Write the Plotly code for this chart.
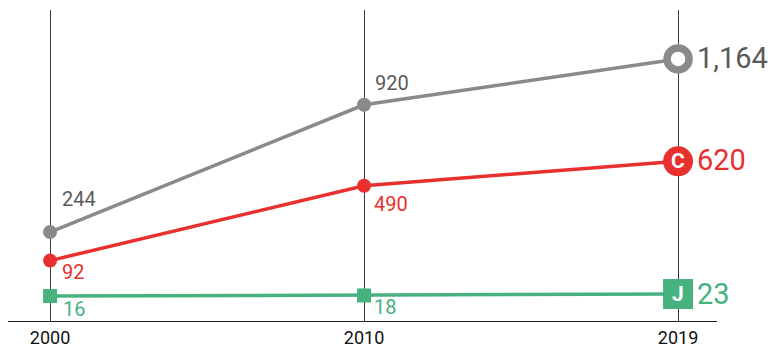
import plotly.graph_objects as go

years = ["2000", "2010", "2019"]
gray_vals = [244, 920, 1164]
red_vals = [92, 490, 620]
green_vals = [16, 18, 23]

GRAY = "#8a8a8a"
GRAY_TXT = "#5a5a5a"
RED = "#e8302e"
GREEN = "#47b17f"
FONT = "Roboto, Lato, sans-serif"

xs = list(range(len(years)))

fig = go.Figure()
fig.add_trace(go.Scatter(
    x=xs, y=gray_vals, mode="lines+markers",
    line=dict(color=GRAY, width=3.5),
    marker=dict(symbol="circle", size=[14, 14, 22], opacity=1,
                color=[GRAY, GRAY, "white"],
                line=dict(color=GRAY, width=[0, 0, 7.5])),
    cliponaxis=False, hoverinfo="skip"))
fig.add_trace(go.Scatter(
    x=xs, y=red_vals, mode="lines+markers",
    line=dict(color=RED, width=3.5),
    marker=dict(symbol="circle", size=[14, 14, 30], opacity=1, color=RED, line=dict(width=0)),
    cliponaxis=False, hoverinfo="skip"))
fig.add_trace(go.Scatter(
    x=xs, y=green_vals, mode="lines+markers", yaxis="y2",
    line=dict(color=GREEN, width=3.5),
    marker=dict(symbol="square", size=[14, 14, 30], opacity=1, color=GREEN, line=dict(width=0)),
    cliponaxis=False, hoverinfo="skip"))

ann = []
def lab(i, v, txt, color, size, xs_, ys_, yref="y"):
    ann.append(dict(x=i, y=v, xref="x", yref=yref, text=txt, showarrow=False,
                    xanchor="left", yanchor="middle", xshift=xs_, yshift=ys_,
                    font=dict(family=FONT, size=size, color=color)))

# small labels
lab(0, gray_vals[0], f"{gray_vals[0]:,}", GRAY_TXT, 20, 10, 33)
lab(1, gray_vals[1], f"{gray_vals[1]:,}", GRAY_TXT, 20, 9, 22)
lab(0, red_vals[0], f"{red_vals[0]:,}", RED, 20, 10, -11)
lab(1, red_vals[1], f"{red_vals[1]:,}", RED, 20, 8, -18)
lab(0, green_vals[0], f"{green_vals[0]:,}", GREEN, 20, 11, -13, "y2")
lab(1, green_vals[1], f"{green_vals[1]:,}", GREEN, 20, 8, -12, "y2")
# end labels
lab(2, gray_vals[2], f"{gray_vals[2]:,}", GRAY_TXT, 29, 17, 1)
lab(2, red_vals[2], f"{red_vals[2]:,}", RED, 29, 17, 1)
lab(2, green_vals[2], f"{green_vals[2]:,}", GREEN, 29, 17, 0, "y2")

# letters in markers
for v, letter, yr in [(red_vals[2], "C", "y"), (green_vals[2], "J", "y2")]:
    ann.append(dict(x=2, y=v, xref="x", yref=yr, text=f"<b>{letter}</b>", showarrow=False,
                    xanchor="center", yanchor="middle", yshift=0,
                    font=dict(family=FONT, size=21, color="white")))

fig.update_layout(
    width=774, height=348,
    margin=dict(l=8, r=57, t=10, b=27, autoexpand=False),
    paper_bgcolor="white", plot_bgcolor="white",
    showlegend=False,
    annotations=ann,
    xaxis=dict(range=[-0.134, 2.124], tickvals=xs, ticktext=years,
               showgrid=True, gridcolor="#3a3a3a", gridwidth=1,
               showline=True, linecolor="#222222", linewidth=1,
               ticks="", zeroline=False, automargin=False,
               tickfont=dict(family=FONT, size=18, color="#111111")),
    yaxis=dict(range=[-229, 1424], visible=False, showgrid=False, zeroline=False),
    yaxis2=dict(range=[-69, 991], overlaying="y", visible=False,
                showgrid=False, zeroline=False),
)

fig.write_html("out.html", config={"displayModeBar": False},
               post_script="document.body.style.margin='0';document.body.style.overflow='hidden';")
